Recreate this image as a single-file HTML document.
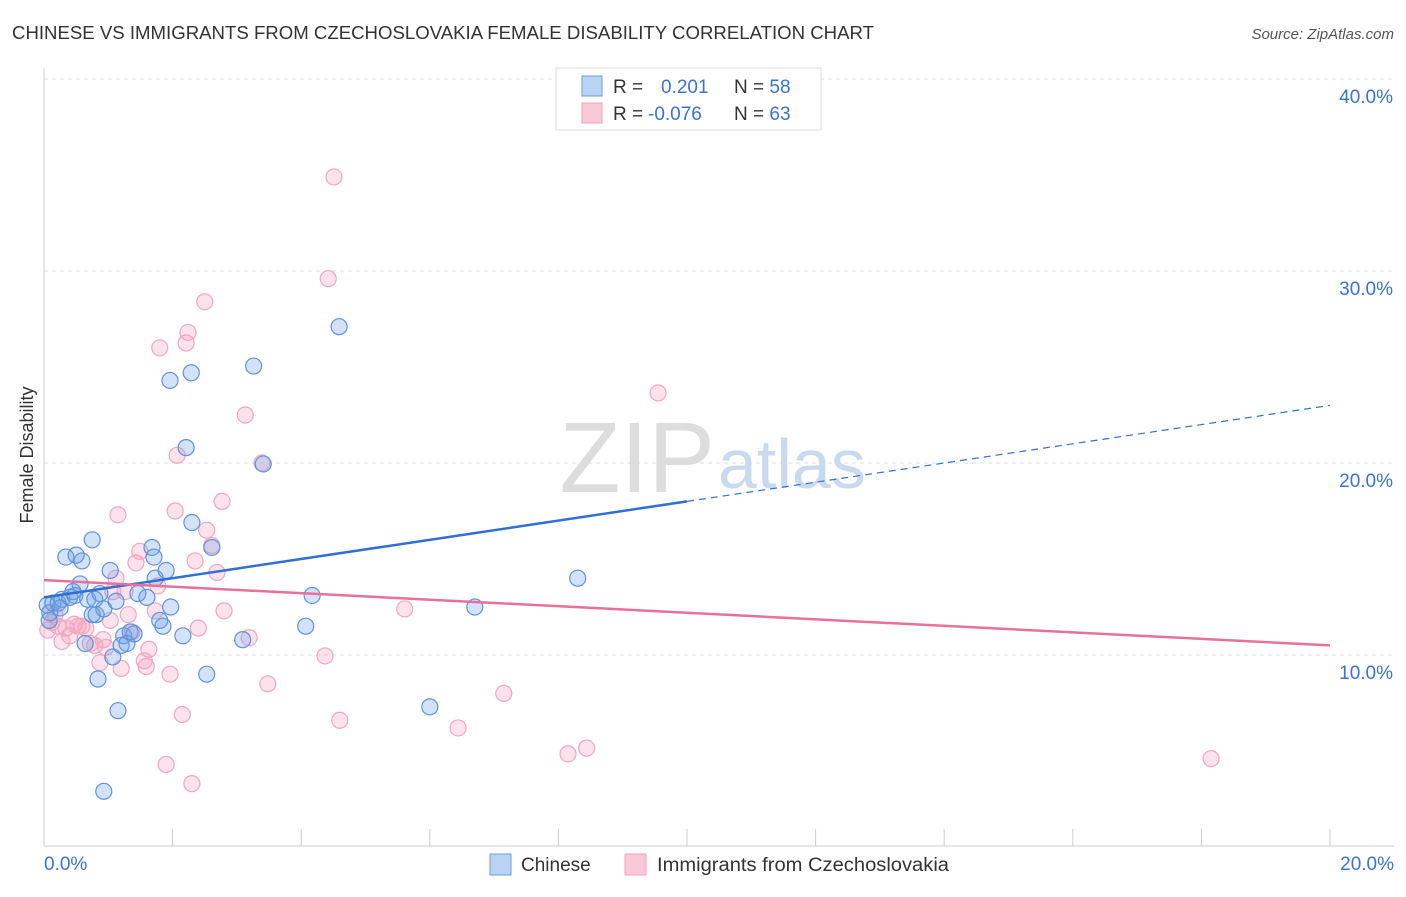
<!DOCTYPE html>
<html><head><meta charset="utf-8"><style>
body{margin:0;background:#fff;font-family:"Liberation Sans",sans-serif;}
svg text{font-family:"Liberation Sans",sans-serif;}
</style></head><body>
<svg id="chart" width="1406" height="892">
<text x="12" y="39" font-size="18" fill="#333" textLength="862" lengthAdjust="spacingAndGlyphs">CHINESE VS IMMIGRANTS FROM CZECHOSLOVAKIA FEMALE DISABILITY CORRELATION CHART</text>
<text x="1394" y="39" font-size="15" fill="#555" font-style="italic" text-anchor="end">Source: ZipAtlas.com</text>
<text x="33" y="455" font-size="18" fill="#333" transform="rotate(-90 33 455)" text-anchor="middle">Female Disability</text>
<g id="grid"></g>
<g id="axes"></g>
<text x="715" y="492" font-size="100" fill="#ddd" font-family="Liberation Serif" text-anchor="end">ZIP</text>
<text x="718" y="488" font-size="70" fill="#c9daf0">atlas</text>
<g id="pts"></g>
<g id="lines"></g>
<g>
<rect x="556" y="68" width="265" height="62" fill="#fff" stroke="#ddd"/>
<rect x="582" y="76" width="20" height="20" fill="#b9d3f5" stroke="#6d9ee0"/>
<rect x="582" y="103" width="20" height="20" fill="#f9c9d8" stroke="#f0a0ba"/>
<text x="613" y="93" font-size="19" fill="#333">R =</text>
<text x="661" y="93" font-size="19" fill="#3a72d8">0.201</text>
<text x="734" y="93" font-size="19" fill="#333">N = <tspan fill="#3a72d8">58</tspan></text>
<text x="613" y="120" font-size="19" fill="#333">R =</text>
<text x="648" y="120" font-size="19" fill="#3a72d8">-0.076</text>
<text x="734" y="120" font-size="19" fill="#333">N = <tspan fill="#3a72d8">63</tspan></text>
</g>
<g>
<rect x="490" y="854" width="21" height="21" fill="#b9d3f5" stroke="#6d9ee0"/>
<text x="521" y="871" font-size="19" fill="#333">Chinese</text>
<rect x="625" y="854" width="21" height="21" fill="#f9c9d8" stroke="#f0a0ba"/>
<text x="657" y="871" font-size="19" fill="#333" textLength="292" lengthAdjust="spacingAndGlyphs">Immigrants from Czechoslovakia</text>
</g>
</svg>
<script>
const blueX=[0.05,0.09,0.14,0.22,0.28,0.34,0.40,0.45,0.50,0.56,0.59,0.64,0.68,0.75,0.75,0.81,0.84,0.87,0.93,1.03,1.07,1.12,1.15,1.20,1.24,1.29,1.34,1.40,1.46,1.60,1.68,1.71,1.73,1.80,1.85,1.90,1.97,1.96,2.16,2.21,2.29,2.30,2.53,2.61,3.09,3.26,3.41,4.17,4.07,4.59,6.0,6.70,8.30,0.93,0.08,0.25,0.48,0.79];
const blueY=[12.6,12.2,12.7,12.7,12.9,15.1,13.0,13.3,15.2,13.7,14.9,10.6,12.9,16.0,12.1,12.1,8.75,13.2,12.4,14.4,9.9,12.8,7.1,10.5,11.0,10.6,11.2,11.1,13.2,13.0,15.6,15.1,14.0,11.8,11.5,14.4,12.5,24.3,11.0,20.8,24.7,16.9,9.0,15.6,10.8,25.05,19.95,13.1,11.5,27.1,7.3,12.5,14.0,2.9,11.8,12.45,13.1,12.9];
const pinkX=[0.06,0.12,0.17,0.22,0.28,0.34,0.40,0.47,0.53,0.59,0.65,0.72,0.79,0.87,0.92,0.96,1.03,1.07,1.12,1.15,1.20,1.26,1.31,1.37,1.43,1.49,1.56,1.59,1.63,1.73,1.77,1.90,1.96,2.04,2.07,2.15,2.21,2.24,2.30,2.35,2.40,2.50,2.53,2.61,2.69,2.77,2.80,3.13,3.19,3.39,3.48,4.37,4.42,4.51,4.60,5.61,6.44,7.15,8.15,8.44,9.55,18.15,1.80];
const pinkY=[11.3,11.7,12.1,11.5,10.7,11.4,11.0,11.6,11.5,11.5,11.4,10.6,10.5,9.6,10.8,10.4,11.8,13.3,14.0,17.3,9.3,13.3,12.1,11.2,14.8,15.4,9.7,9.4,10.3,12.3,13.6,4.3,9.0,17.5,20.4,6.9,26.25,26.8,3.3,14.9,11.4,28.4,16.5,15.7,14.3,18.0,12.3,22.5,10.9,20.0,8.5,9.95,29.6,34.9,6.6,12.4,6.2,8.0,4.85,5.15,23.65,4.6,26.0];
const blueTrend=[13.0,23.0];
const pinkTrend=[13.9,10.5];
const yTicks=[10,20,30,40];
const yTickLabels=["10.0%","20.0%","30.0%","40.0%"];
const xTicks=[0,2,4,6,8,10,12,14,16,18,20];

const NS="http://www.w3.org/2000/svg";
const X=v=>44+v*64.3, Y=v=>847-v*19.2;
function mk(t,a,p){const e=document.createElementNS(NS,t);for(const k in a)e.setAttribute(k,a[k]);p.appendChild(e);return e;}
const grid=document.getElementById('grid'),axes=document.getElementById('axes');
yTicks.forEach((t,i)=>{
 const l=mk('line',{x1:44,x2:1394,y1:Y(t),y2:Y(t),stroke:'#ddd','stroke-dasharray':'4,4'},grid);
 
 
 const tx=mk('text',{x:1393,y:Y(t)+24,'font-size':19,fill:'#3a72d8','text-anchor':'end'},axes);
 tx.textContent=yTickLabels[i];
 
 
});
mk('line',{x1:44,x2:44,y1:68,y2:846,stroke:'#ccc'},axes);
mk('line',{x1:44,x2:1394,y1:846,y2:846,stroke:'#ccc'},axes);
xTicks.forEach(t=>{const l=mk('line',{x1:X(t),x2:X(t),y1:829,y2:846,stroke:'#ccc'},axes);
 
 });
let t0=mk('text',{x:44,y:870,'font-size':19,fill:'#3a72d8'},axes);t0.textContent="0.0%";


let t1=mk('text',{x:1394,y:870,'font-size':19,fill:'#3a72d8','text-anchor':'end'},axes);t1.textContent="20.0%";


const pts=document.getElementById('pts');
pinkX.forEach((x,i)=>{const c=mk('circle',{cx:X(x),cy:Y(pinkY[i]),r:8,fill:'rgba(244,160,190,0.3)',stroke:'#f2a6c0','stroke-width':1.2},pts);
 
 });
blueX.forEach((x,i)=>{const c=mk('circle',{cx:X(x),cy:Y(blueY[i]),r:8,fill:'rgba(110,160,230,0.3)',stroke:'#5f93dc','stroke-width':1.2},pts);
 
 });
const lines=document.getElementById('lines');
const bAt=v=>blueTrend[0]+(blueTrend[1]-blueTrend[0])*v/20;
let bl=mk('line',{x1:X(0),y1:Y(bAt(0)),x2:X(10),y2:Y(bAt(10)),stroke:'#2f6fd6','stroke-width':2.5},lines);


let bd=mk('line',{x1:X(10),y1:Y(bAt(10)),x2:X(20),y2:Y(bAt(20)),stroke:'#2f6fd6','stroke-width':1.2,'stroke-dasharray':'7,5'},lines);


let pl=mk('line',{x1:X(0),y1:Y(pinkTrend[0]),x2:X(20),y2:Y(pinkTrend[1]),stroke:'#e8709a','stroke-width':2.5},lines);


</script>
</body></html>
